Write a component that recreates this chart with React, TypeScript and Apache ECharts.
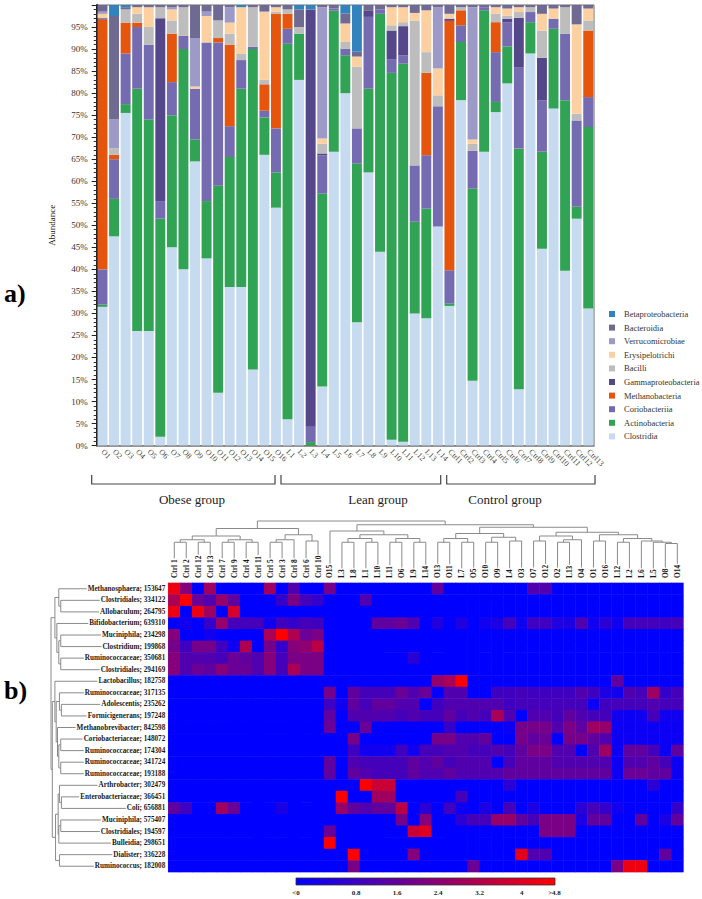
import React, { useEffect, useRef } from 'react';
import * as echarts from 'echarts';

// ---------- Part a) stacked bars ----------
const samples = ['O1','O2','O3','O4','O5','O6','O7','O8','O9','O10','O11','O12','O13','O14','O15','O16',
  'L1','L2','L3','L4','L5','L6','L7','L8','L9','L10','L11','L12','L13','L14',
  'Ctrl1','Ctrl2','Ctrl3','Ctrl4','Ctrl5','Ctrl6','Ctrl7','Ctrl8','Ctrl9','Ctrl10','Ctrl11','Ctrl12','Ctrl13'];

const clostridia = [31.5,47.5,75.5,26,26,2,45,40,64.5,42.5,12,36,36,17.3,66,54, 6,83,0,13.4,66.7,80,28,62,44,1.3,0.9,30,28.9,49.7, 31.7,78.4,14.7,66.7,75.7,82.2,12.8,89,44.7,76.5,39.7,51.5,31.1];
const actinobacteria = [0.5,8.5,2,55,48,49.5,30,50,5,13,47,29.5,45,72.7,8.5,8, 85.2,10.5,0.8,43.8,32,8.6,36,19,54,83.3,85.8,20.8,24.9,0, 0.6,13.2,43.6,32.1,2.3,8.4,54.6,7.1,22,18.1,38.7,2.7,41.2];
const coriobacteriia = [8,9,11.5,14,17,4,7.5,3,11.5,36,32.5,7,6.5,0.5,1.5,10, 3.4,0,3.5,8.7,0.5,1.5,8,16.3,1,3,1.9,12.8,12.1,27.3, 7.5,3.8,8.6,0.7,11.3,5.5,18.5,2.3,11.7,2.3,15.1,19.6,6.8];
const methanobacteria = [56.7,1,7,1,0,0,11,0,0,0,1,18.5,0,0,6,26, 3.4,0,0,0,0,0,0,0,0,0,0,0,18.7,0, 56.6,3.4,0,0,6.8,0,0,0,0,0,0,0,15.1];
const gammaproteobacteria = [0.3,0,0,0,0,41.5,0,0,0,0,0,0,0,0,0,0, 0,0,94.7,0.4,0,0,0,1.5,0,6.6,6.6,0,0,0, 0.5,0,0,0,0,0.8,11.2,0,9.6,0,0,0,0];
const bacilli = [0,1.5,3,2,4,2.5,3,6.5,0,0,4,2.5,1.5,9,1,0.5, 1,1.5,0,2.2,0,1.5,14,0,0,1.2,0.9,32.9,4.7,2.5, 0,0.7,1.6,0,1.9,0.7,1.3,1.1,6.2,0,6,1.5,2.3];
const erysipelotrichi = [1,0,0,1.5,4.5,0,2.5,0,0.5,6,0,2.5,10.5,0,15.5,1, 0,0,0,1.2,0,4.2,2.3,0,0,4.1,3.4,1.7,9.5,6.1, 1.1,0,1,0,1.5,1.6,1.1,0,3.8,2.3,0,20.3,2.7];
const verrucomicrobiae = [0.5,6.5,0,0,0,0,0.5,0,11,1,0,3.5,0,0,0,0, 0,0,0,29.8,0,0,0,0,0,0,0,0,0,13.9, 0,0,30,0,0,0,0,0,0,0,0,0,0];
const bacteroidia = [1.5,23.5,0.5,0.5,0.5,0.5,0.5,0.5,7.5,1.5,3.5,0.5,0,0.5,1.5,0.5, 1,4,0,0.5,0.8,2.3,1.1,1.2,1,0.5,0.5,1.8,1.2,0.5, 2,0.5,0.5,0.5,0.5,0.8,0.5,0.5,2,0.8,0.5,4.4,0.8];
const betaproteobacteria = [0,2.5,0.5,0,0,0,0,0,0,0,0,0,0.5,0,0,0, 0,1,1,0,0,1.9,10.6,0,0,0,0,0,0,0, 0,0,0,0,0,0,0,0,0,0,0,0,0];

const classNames = ['Clostridia','Actinobacteria','Coriobacteriia','Methanobacteria','Gammaproteobacteria','Bacilli','Erysipelotrichi','Verrucomicrobiae','Bacteroidia','Betaproteobacteria'];
const classColors = ['#c6dbef','#31a354','#756bb1','#e6550d','#54478a','#bdbdbd','#fdd0a2','#9e9ac8','#6e6a92','#3182bd'];
const classValues = [clostridia, actinobacteria, coriobacteriia, methanobacteria, gammaproteobacteria, bacilli, erysipelotrichi, verrucomicrobiae, bacteroidia, betaproteobacteria];

const groupNames = ['Obese group', 'Lean group', 'Control group'];

// ---------- Part b) heatmap ----------
const heatCols = ['Ctrl 1','Ctrl 2','Ctrl 12','Ctrl 13','Ctrl 7','Ctrl 9','Ctrl 4','Ctrl 11','Ctrl 5','Ctrl 3','Ctrl 8','Ctrl 6','Ctrl 10',
  'O15','L3','L8','L1','L10','L11','O6','L9','L14','O13','O11','L7','O5','O10','O9','L4','O3','O7','O12','O2','L13','O4','O1','O16','L12','L2','L6','L5','O8','O14'];
const heatRows = ['Methanosphaera; 153647','Clostridiales; 334122','Allobaculum; 264795','Bifidobacterium; 639310','Muciniphila; 234298',
  'Clostridium; 199868','Ruminococcaceae; 350681','Clostridiales; 294169','Lactobacillus; 182758','Ruminococcaceae; 317135',
  'Adolescentis; 235262','Formicigenerans; 197248','Methanobrevibacter; 842598','Coriobacteriaceae; 148072','Ruminococcaceae; 174304',
  'Ruminococcaceae; 341724','Ruminococcaceae; 193188','Arthrobacter; 302479','Enterobacteriaceae; 366451','Coli; 656881',
  'Muciniphila; 575407','Clostridiales; 194597','Bulleidia; 298651','Dialister; 336228','Ruminococcus; 182008'];

const h00 = [4.5,2.5,0,3,0,0,0,0,3,0,1.5,0,0, 2.2,0,0,0,0,0,0,0,0, 1.8,0,0,0,0,0,0,0,1.5,1.5,0,0,0,0,0,0,0,0,0,0,0];
const h01 = [3.2,4.8,2,1.5,2.8,1.8,0,0,0,1,2.3,1.3,1, 0,0,0,1.5,0,0,0,0,0, 0,0,0,0,0,0,0,0,0,0,0,0,0,0,0,0,0,0,0,0,0];
const h02 = [4.5,0,4.5,3,0,4,0,0,0,0,0,0,0, 0,0,0,0,0,0,0,0,0, 0,0,0,0,0,0,0,0,0,0,0,0,0,0,0,0,0,0,0,0,0];
const h03 = [0,0.3,0,1,2.8,1.3,1.3,1.3,0.3,1.2,1,1.3,1.2, 0,0,0,0,1.8,1.8,2,1.5,0, 0.6,0,0.6,0,0.3,0.5,1.3,0.3,1.2,1.2,0.6,0.5,1.5,0.3,0.8,0.3,1.3,1.3,1.3,1.2,1.3];
const h04 = [2.5,0,0,0.3,0,0,0,0,3.2,4.8,3.3,2,2.3, 0,0,0,0,0,0,0,0,0, 0,0,0,0,0,0,0,0,0,0,0,0,0,0,0,0,0,0,0,0,0];
const h05 = [2.2,1.2,2.2,2.2,1.2,0.3,3.3,0,2.2,1,2.5,2.7,3.5, 0,0,0,0,0,0,0,0,0, 0,0,0,0,0,0,0,0,0,0,0,0,0,0,0,0,0,0,0,0,0];
const h06 = [2.5,1.5,1.5,1.5,1.3,2,1.8,1.5,2.5,1.3,2.3,2.3,2.3, 0,0,0,0,0,0,0,0.8,0, 0,0,0,0,0,0,0,0,0,0,0,0,0,0,0,0,0,0,0,0,0];
const h07 = [2.5,1.5,2,1.8,2.5,2,2,1.5,2.5,1.3,3.2,2.3,2.3, 0,0,0,0,0,0,0,0,0, 0,0,0,0,0,0,0,0,0,0,0,0,0,0,0,0,0,0,0,0,0];
const h08 = [0,0,0,0,0,0,0,0,0,0,0,0,0, 0,0,0,0,0,0,0,0,0, 2.8,3.2,4.8,0,0,0,0,0,0,0,0,0,0,0,0,1.8,0,0,0,0,0];
const h09 = [0,0,0,0,0,0,0,0,0,0,0,0,0, 2.2,0,1.8,1.3,1.3,1.3,2,1.5,2, 0,1.5,1.5,0,0,1.2,1.2,1.3,1.2,1.2,1.2,1.2,1.5,1.2,0.5,0.3,1.5,1.3,3,1,1.3];
const h10 = [0,0,0,0,0,0,0,0,0,0,0,0,0, 1.2,0.3,1.8,1.3,1.8,1.8,1.5,1.5,0, 1.2,1.5,1.5,1.5,1.5,1.5,1.2,1.3,1.3,1.3,1.3,1.3,1.3,0.2,1.2,1.3,1.3,1.3,1.5,1.3,1.3];
const h11 = [0,0,0,0,0,0,0,0,0,0,0,0,0, 1.8,0,1.5,1.5,1.5,1.5,1.3,1.5,1.3, 1.3,1.8,1.3,1.5,1.3,3.2,1.5,0,1.5,1.5,1.3,1.8,1.5,1.3,1.3,0.3,0.2,0.3,1.3,0.3,0.3];
const h12 = [0,0,0,0,0,0,0,0,0,0,0,0,0, 2,0,0,2,0,0,0,0,0, 0,1,0,0,0,0,0.2,2.2,2.2,2.2,1.5,2.3,1.8,3,2.8,0.2,0.2,0.2,0.2,0.2,0.2];
const h13 = [0,0,0,0,0,0,0,0,0,0,0,0,0, 0,0,2.2,0,0,0,0,0,0, 2.2,2.2,1.5,1.5,1.8,0,0,2.2,1.8,2,0,2.2,2.2,1.8,1.5,0.2,0.2,0.2,0.2,0.2,0.2];
const h14 = [0,0,0,0,0,0,0,0,0,0,0,0,0, 0,0,1.2,0.3,0.3,0.3,1.2,0.3,1.3, 1.3,1.5,1.5,1.3,1.3,1.5,1.3,1.8,2.3,2.3,1.5,1.5,0,1.5,3,0.2,1.8,1.8,1.3,0.2,1.8];
const h15 = [0,0,0,0,0,0,0,0,0,0,0,0,0, 1.8,0,1.5,1.3,1.3,1.3,1.3,1.8,1.5, 1.8,1.3,1.5,1.5,1.5,0,1.3,1.8,1.8,1.8,1.5,1.5,1.5,1.5,1.5,0.2,1.5,1.5,1.8,1.3,0.2];
const h16 = [0,0,0,0,0,0,0,0,0,0,0,0,0, 1.8,0,1.8,1.5,1.3,1.3,1.3,1.8,1.5, 1.5,1.8,1.5,1.5,1.5,1.5,1.8,1.8,1.8,1.8,1.8,1.8,1.8,1.8,1.8,0.2,2,2,1.8,1.8,0.2];
const h17 = [0,0,0,0,0,0,0,0,0,0,0,0,0, 0,0,0,4.8,3.8,3.8,0,0,0, 0,0,0,0,0,0,0.8,0,0,0,0,0,0,0,0,0,0,0,0.8,0,0];
const h18 = [0,0,0,0,0,0,0,0,0,0,0,0,0, 0,4.8,0,0,3,3,0,0,0, 0,0,1.3,0,0,0,0,0,0,0,0,0,0,0,0,0,0,0,0,0,0];
const h19 = [1.8,1.2,0,0,3,2,0,0,0,0.5,0,0,0, 0,2.8,1.8,1.5,1.8,1.8,3.5,0,0.8, 0,1.2,0.2,0,0.5,0,1.3,0,0.5,0,0,0,0.8,1.3,1,0.3,0,0,0,0,1];
const h20 = [0,0,0,0,0,0,0,0,0,0,0,0,0, 0,0,0,0,0,0,2.2,0,2.5, 0,0,0.8,1.3,1.3,2.8,2.8,1.8,1.3,2.3,2.3,2.3,0.5,1.8,1.8,0,0,1.8,0,0.5,1.8];
const h21 = [0,0,0,0,0,0,0,0,0,0,0,0,0, 2,0,0,0,0,0,0,3.8,4.2, 0,0,0,0,0,0,0,0,0,2.3,2.3,2.3,0,0,0,0,0,0,0,0,0];
const h22 = [0,0,0,0,0,0,0,0,0,0,0,0,0, 4.8,0,0,0,0,0,0,0,0, 0,0,0,0,0,0,0,0,0,0,0,0,0,0,0,0,0,0,0,0,0];
const h23 = [0,0,0,0,0,0,0,0,0,0,0,0,0, 0,0,4.8,0,0,0,0,2.5,0, 0,0,0,0,0,0,0,4.3,1.5,1.5,0,0,0,0,0,0,0,0,0,1.8,0];
const h24 = [0,0,0,0,0,0,0,0,0,0,0,0,0, 0,0,2.3,0,0,0,0,0,0, 0,0,0,2,0,0,0,0,0,0,0,0,0,0,0,2.3,4.5,4.5,0,0,0];
const heatValues = [h00,h01,h02,h03,h04,h05,h06,h07,h08,h09,h10,h11,h12,h13,h14,h15,h16,h17,h18,h19,h20,h21,h22,h23,h24];

const colorbarLabels = ['<0','0.8','1.6','2.4','3.2','4','>4.8'];

// dendrograms: [height, left, right], leaves = index
const colTree: any = [10,
  [7, [4, [2.5, [1.5, 0, 1], [1.5, 2, 3]], [2.5, [1.5, 4, 5], [1.5, 6, 7]]],
      [4.5, [2.5, [1.5, 8, 9], 10], [2, 11, 12]]],
  [8.5, [6, 13, [4.5, [3, [1.5, 14, 15], [1.5, 16, 17]], [3, [1.5, 18, 19], [1.5, 20, 21]]]],
        [7.5, [5, [3, [1.5, 22, 23], [1.5, 24, 25]], [3.5, [1.5, 26, 27], [2, 28, 29]]],
              [5.5, [4, [2, 30, 31], [2.5, [1.5, 32, 33], 34]],
                    [4.5, [2, 35, 36], [3, [1.5, 37, 38], [2, 39, [1.5, 40, [1, 41, 42]]]]]]]]];
const rowTree: any = [10,
  [7, [4, 0, [2.5, 1, 2]], [5.5, 3, [4, [2.5, 4, 5], [2.5, 6, 7]]]],
  [9, [7, 8, [6, [3.5, 9, [2, 10, 11]], [5, 12, [4, [2.5, 13, 14], [2.5, 15, 16]]]]],
      [6.5, [4.5, [3.5, 17, [2, 18, 19]], [4, [2.5, 20, 21], 22]], [3.5, 23, 24]]]];

const FONT = 'Liberation Serif';
const ROW_FS = 7.2;
const COL_FS = 7.4;

function walk(node: any, leafPos: (i: number) => number, hc: (h: number) => number, vertical: boolean, out: number[][][]): { p: number; h: number } {
  if (typeof node === 'number') return { p: leafPos(node), h: 0 };
  const [h, l, r] = node;
  const L = walk(l, leafPos, hc, vertical, out);
  const R = walk(r, leafPos, hc, vertical, out);
  const c = hc(h), cl = hc(L.h), cr = hc(R.h);
  out.push(vertical
    ? [[L.p, cl], [L.p, c], [R.p, c], [R.p, cr]]
    : [[cl, L.p], [c, L.p], [c, R.p], [cr, R.p]]);
  return { p: (L.p + R.p) / 2, h };
}

export default function App() {
  const ref = useRef<HTMLDivElement>(null);
  useEffect(() => {
    document.body.style.margin = '0';
    const chart = echarts.init(ref.current!, null, { renderer: 'svg' });

    const heatData: number[][] = [];
    heatValues.forEach((row, r) => row.forEach((v, c) => heatData.push([c, r, v])));

    const barSeries = classNames.map((name, i) => ({
      name, type: 'bar', stack: 'total', xAxisIndex: 0, yAxisIndex: 0,
      barCategoryGap: '14%', data: classValues[i],
      itemStyle: { color: classColors[i] }, emphasis: { disabled: true }
    }));

    const HL = 168.3, HT = 583, HW = 515, HH = 289;

    chart.setOption({
      animation: false,
      backgroundColor: '#ffffff',
      grid: [
        { left: 96.7, top: 5, width: 497.3, height: 440.6, show: true, borderColor: '#666', borderWidth: 1 },
        { left: HL, top: HT, width: HW, height: HH, show: true, borderColor: '#c4c4dc', borderWidth: 1 }
      ],
      xAxis: [
        { type: 'category', gridIndex: 0, data: samples,
          axisTick: { show: false }, axisLine: { lineStyle: { color: '#777', width: 1.5 } },
          axisLabel: { rotate: -45, interval: 0, fontSize: 8, fontFamily: FONT, color: '#444', margin: 5 } },
        { type: 'category', gridIndex: 1, position: 'top', data: heatCols,
          axisTick: { show: false }, axisLine: { show: false }, splitLine: { show: false },
          axisLabel: { rotate: -90, interval: 0, fontSize: COL_FS, fontWeight: 'bold', fontFamily: FONT, color: '#1a1a1a', margin: 5 } }
      ],
      yAxis: [
        { type: 'value', gridIndex: 0, min: 0, max: 100, interval: 5,
          name: 'Abundance', nameLocation: 'middle', nameGap: 40, nameRotate: 90,
          nameTextStyle: { fontSize: 9, fontFamily: FONT, color: '#111' },
          axisLine: { show: true, lineStyle: { color: '#222', width: 2 } },
          axisTick: { show: true, length: 5, lineStyle: { color: '#222' } },
          minorTick: { show: true, splitNumber: 5, length: 3, lineStyle: { color: '#333' } },
          splitLine: { show: false },
          axisLabel: { formatter: (v: number) => (v >= 100 ? '' : v + '%'), fontSize: 9, fontFamily: FONT, color: '#333', margin: 9 } },
        { type: 'category', gridIndex: 1, inverse: true, data: heatRows,
          axisTick: { show: false }, axisLine: { show: false }, splitLine: { show: false },
          axisLabel: { interval: 0, fontSize: ROW_FS, fontWeight: 'bold', fontFamily: FONT, color: '#1a1a1a', margin: 3 } }
      ],
      legend: {
        data: [...classNames].reverse(), orient: 'vertical', left: 604, top: 303,
        icon: 'rect', itemWidth: 6, itemHeight: 6, itemGap: 1.6,
        textStyle: { fontSize: 8.5, lineHeight: 12, fontFamily: FONT, color: '#333', padding: [0, 0, 0, 4] },
        selectedMode: false
      },
      visualMap: { show: false, type: 'continuous', min: 0, max: 4.8, seriesIndex: classNames.length,
        inRange: { color: ['#0000ff', '#ff0000'] } },
      series: [
        ...barSeries,
        { type: 'heatmap', xAxisIndex: 1, yAxisIndex: 1, data: heatData, itemStyle: { borderWidth: 0 }, emphasis: { disabled: true } }
      ]
    });

    const ctx = document.createElement('canvas').getContext('2d')!;
    const twCol = (s: string) => { ctx.font = `bold ${COL_FS}px ${FONT}`; return ctx.measureText(s).width; };
    const twRow = (s: string) => { ctx.font = `bold ${ROW_FS}px ${FONT}`; return ctx.measureText(s).width; };

    const lineStyle = { stroke: '#8a8a8a', lineWidth: 1, fill: null };
    const graphics: any[] = [];

    // column dendrogram
    const colX = (i: number) => chart.convertToPixel({ xAxisIndex: 1 }, heatCols[i]) as number;
    const colLeafY = 546;
    const colSegs: number[][][] = [];
    walk(colTree, colX, (h) => colLeafY - h * 2.5, true, colSegs);
    colSegs.forEach((pts) => graphics.push({ type: 'polyline', silent: true, shape: { points: pts }, style: lineStyle }));
    heatCols.forEach((c, i) => {
      const x = colX(i);
      const end = HT - 5 - twCol(c) - 1;
      if (end > colLeafY) graphics.push({ type: 'line', silent: true, shape: { x1: x, y1: colLeafY, x2: x, y2: end }, style: lineStyle });
    });

    // row dendrogram
    const rowY = (j: number) => chart.convertToPixel({ yAxisIndex: 1 }, heatRows[j]) as number;
    const rowLeafX = 64;
    const rowSegs: number[][][] = [];
    walk(rowTree, rowY, (h) => rowLeafX - h * 1.3, false, rowSegs);
    rowSegs.forEach((pts) => graphics.push({ type: 'polyline', silent: true, shape: { points: pts }, style: lineStyle }));
    heatRows.forEach((r, j) => {
      const y = rowY(j);
      const end = HL - 3 - twRow(r) - 1;
      if (end > rowLeafX) graphics.push({ type: 'line', silent: true, shape: { x1: rowLeafX, y1: y, x2: end, y2: y }, style: lineStyle });
    });

    // group brackets (annotation)
    const brackets = [[91.7, 275], [281, 440.7], [446.7, 595]];
    const groupX = [192, 378, 505];
    brackets.forEach(([a, b], k) => {
      graphics.push({ type: 'polyline', silent: true, shape: { points: [[a, 475], [a, 484], [b, 484], [b, 475]] },
        style: { stroke: '#444', lineWidth: 1.2, fill: null } });
      graphics.push({ type: 'text', silent: true, x: groupX[k], y: 499,
        style: { text: groupNames[k], font: `13px ${FONT}`, fill: '#222', textAlign: 'center', textVerticalAlign: 'middle', align: 'center', verticalAlign: 'middle' } });
    });

    // panel letters
    graphics.push({ type: 'text', silent: true, x: 4, y: 293,
      style: { text: 'a)', font: `bold 26px ${FONT}`, fill: '#000', textVerticalAlign: 'middle', verticalAlign: 'middle' } });
    graphics.push({ type: 'text', silent: true, x: 4, y: 690,
      style: { text: 'b)', font: `bold 26px ${FONT}`, fill: '#000', textVerticalAlign: 'middle', verticalAlign: 'middle' } });

    // colour bar legend
    graphics.push({ type: 'rect', silent: true, shape: { x: 296, y: 878, width: 259, height: 7 },
      style: { fill: new echarts.graphic.LinearGradient(0, 0, 1, 0, [{ offset: 0, color: '#0000ff' }, { offset: 1, color: '#ff0000' }]), stroke: '#333', lineWidth: 0.8 } });
    const cbX = [296, 356, 397, 438, 479.5, 521.7, 554.5];
    colorbarLabels.forEach((t, k) => {
      graphics.push({ type: 'text', silent: true, x: cbX[k], y: 893,
        style: { text: t, font: `bold 7px ${FONT}`, fill: '#222', textAlign: 'center', textVerticalAlign: 'middle', align: 'center', verticalAlign: 'middle' } });
    });

    chart.setOption({ graphic: graphics });

    return () => chart.dispose();
  }, []);

  return <div ref={ref} style={{ position: 'absolute', left: 0, top: 0, width: 702, height: 899, background: '#fff' }} />;
}
